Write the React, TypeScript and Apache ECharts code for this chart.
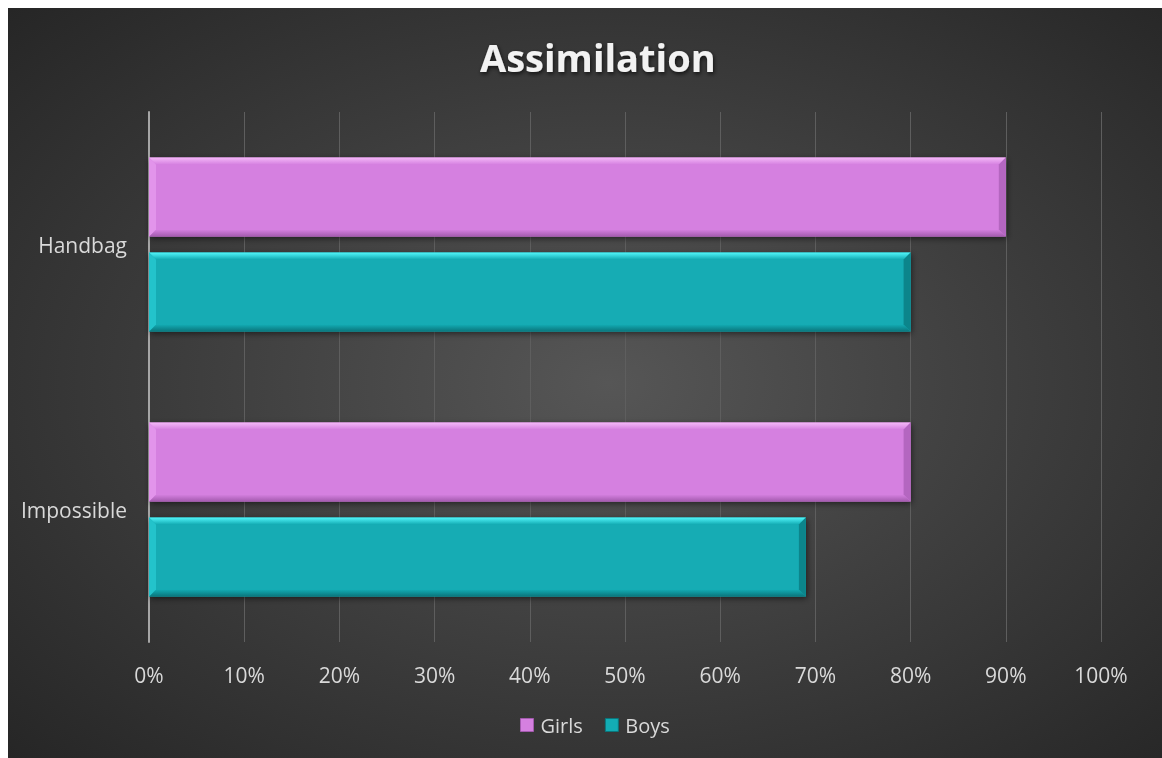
import React, { useEffect, useRef } from "react";
import * as echarts from "echarts";

const categories = ["Handbag", "Impossible"];
const seriesNames = ["Girls", "Boys"];
const girls = [0.9, 0.8];
const boys = [0.8, 0.69];
const xTicks = [0, 0.1, 0.2, 0.3, 0.4, 0.5, 0.6, 0.7, 0.8, 0.9, 1.0];

const palettes = [
  { main: "#d580e0", top: "#f4b8f8", left: "#e294eb", right: "#b466c0", bottom: "#a35aae" },
  { main: "#13acb4", top: "#52f6fa", left: "#23c3cb", right: "#0c858b", bottom: "#0a767c" },
];

function makeRender(seriesIdx: number) {
  const p = palettes[seriesIdx];
  return (params: any, api: any) => {
    const val = api.value(0);
    const cat = api.value(1);
    const start = api.coord([0, cat]);
    const end = api.coord([val, cat]);
    const band = api.size([0, 1])[1];
    const bw = band * 0.298;
    const gap = band * 0.06;
    const y0 = seriesIdx === 0 ? start[1] - gap / 2 - bw : start[1] + gap / 2;
    const y1 = y0 + bw;
    const x0 = start[0];
    const x1 = end[0];
    const b = 7;
    return {
      type: "group",
      children: [
        {
          type: "rect",
          shape: { x: x0, y: y0, width: x1 - x0, height: bw },
          style: { fill: p.main, shadowBlur: 6, shadowColor: "rgba(0,0,0,0.55)", shadowOffsetX: 1, shadowOffsetY: 2 },
        },
        {
          type: "polygon",
          shape: { points: [[x0, y0], [x1, y0], [x1 - b, y0 + b], [x0 + b, y0 + b]] },
          style: {
            fill: new echarts.graphic.LinearGradient(0, 0, 0, 1, [
              { offset: 0, color: p.top },
              { offset: 1, color: p.main },
            ]),
          },
        },
        {
          type: "polygon",
          shape: { points: [[x0, y1], [x1, y1], [x1 - b, y1 - b], [x0 + b, y1 - b]] },
          style: {
            fill: new echarts.graphic.LinearGradient(0, 0, 0, 1, [
              { offset: 0, color: p.main },
              { offset: 1, color: p.bottom },
            ]),
          },
        },
        {
          type: "polygon",
          shape: { points: [[x0, y0], [x0 + b, y0 + b], [x0 + b, y1 - b], [x0, y1]] },
          style: { fill: p.left },
        },
        {
          type: "polygon",
          shape: { points: [[x1, y0], [x1, y1], [x1 - b, y1 - b], [x1 - b, y0 + b]] },
          style: { fill: p.right },
        },
      ],
    };
  };
}

export default function App() {
  const ref = useRef<HTMLDivElement>(null);
  useEffect(() => {
    const chart = echarts.init(ref.current!, null, { renderer: "svg" });
    const labelColor = "#d9d9d9";
    const font = "'Open Sans', 'Noto Sans', sans-serif";
    chart.setOption({
      animation: false,
      backgroundColor: "transparent",
      title: {
        text: "Assimilation",
        left: 467,
        top: 25,
        textStyle: {
          color: "#f2f2f2",
          fontSize: 38,
          fontWeight: "bold",
          fontFamily: font,
          textShadowColor: "rgba(0,0,0,0.7)",
          textShadowBlur: 4,
          textShadowOffsetX: 1,
          textShadowOffsetY: 2,
        },
      },
      legend: {
        bottom: 18,
        left: 507,
        itemWidth: 13,
        itemHeight: 13,
        itemGap: 22,
        textStyle: { color: labelColor, fontSize: 20, fontFamily: font, padding: [0, 0, 0, 2] },
        data: [
          { name: seriesNames[0], icon: "rect", itemStyle: { color: palettes[0].main, borderColor: palettes[0].bottom, borderWidth: 1 } },
          { name: seriesNames[1], icon: "rect", itemStyle: { color: palettes[1].main, borderColor: palettes[1].bottom, borderWidth: 1 } },
        ],
      },
      grid: { left: 141, right: 61, top: 104, bottom: 116, containLabel: false },
      xAxis: {
        type: "value",
        min: xTicks[0],
        max: xTicks[xTicks.length - 1],
        interval: 0.1,
        axisLine: { show: false },
        axisTick: { show: false },
        axisLabel: {
          color: labelColor,
          fontSize: 21,
          fontFamily: font,
          margin: 22,
          formatter: (v: number) => Math.round(v * 100) + "%",
        },
        splitLine: { show: true, lineStyle: { color: "#5e5e5e", width: 1 } },
      },
      yAxis: {
        type: "category",
        data: categories,
        inverse: true,
        axisLine: { show: true, lineStyle: { color: "#a6a6a6", width: 2 } },
        axisTick: { show: false },
        axisLabel: { color: labelColor, fontSize: 21, fontFamily: font, margin: 22 },
      },
      series: [
        {
          name: seriesNames[0],
          type: "custom",
          renderItem: makeRender(0),
          encode: { x: 0, y: 1 },
          itemStyle: { color: palettes[0].main },
          data: girls.map((v, i) => [v, i]),
        },
        {
          name: seriesNames[1],
          type: "custom",
          renderItem: makeRender(1),
          encode: { x: 0, y: 1 },
          itemStyle: { color: palettes[1].main },
          data: boys.map((v, i) => [v, i]),
        },
      ],
    });
    return () => chart.dispose();
  }, []);
  return (
    <div
      ref={ref}
      style={{
        position: "fixed",
        left: 8,
        top: 8,
        width: 1154,
        height: 750,
        background: "radial-gradient(ellipse 75% 75% at 52% 50%, #565656 0%, #3a3a3a 55%, #242424 100%)",
      }}
    />
  );
}
